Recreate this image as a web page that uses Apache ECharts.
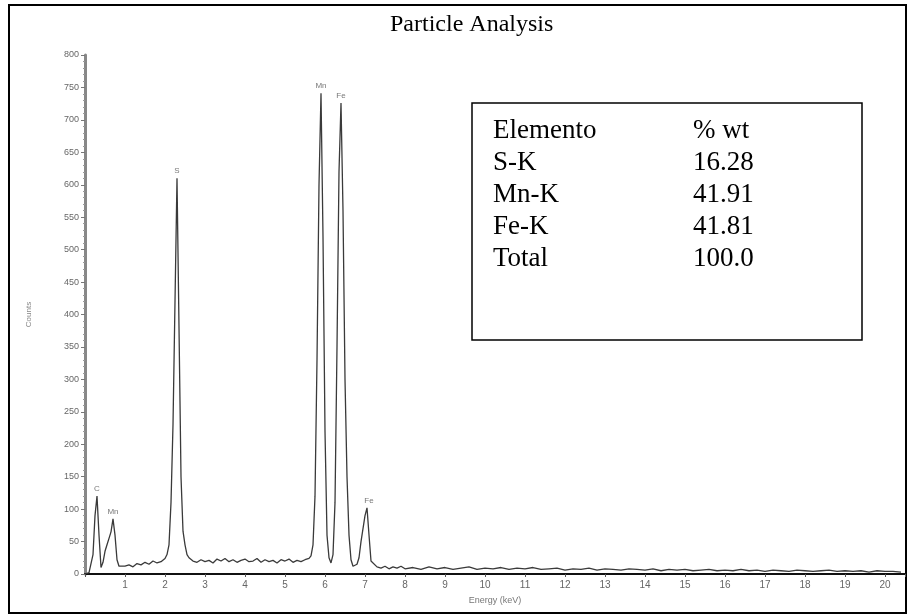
<!DOCTYPE html>
<html>
<head>
<meta charset="utf-8">
<script src="https://cdn.jsdelivr.net/npm/echarts@6/dist/echarts.min.js"></script>
<style>
  html, body { margin: 0; padding: 0; background: #fff; }
  #chart { width: 914px; height: 616px; }
</style>
</head>
<body>
<div id="chart"></div>
<script>
// espectro EDS: energia (keV) y cuentas
const spectrumEnergy = [
  0.00, 0.10, 0.20, 0.25, 0.30, 0.35, 0.40, 0.45, 0.50, 0.55, 0.60, 0.65, 0.70, 0.75, 0.80, 0.85, 0.90,
  1.00, 1.10, 1.20, 1.30, 1.40, 1.50, 1.60, 1.70, 1.80, 1.90, 2.00, 2.05, 2.10, 2.15, 2.20, 2.25, 2.30,
  2.35, 2.40, 2.45, 2.50, 2.55, 2.60, 2.70, 2.80, 2.90, 3.00, 3.10, 3.20, 3.30, 3.40, 3.50, 3.60, 3.70,
  3.80, 3.90, 4.00, 4.10, 4.20, 4.30, 4.40, 4.50, 4.60, 4.70, 4.80, 4.90, 5.00, 5.10, 5.20, 5.30, 5.40,
  5.50, 5.60, 5.65, 5.70, 5.75, 5.80, 5.85, 5.90, 5.95, 6.00, 6.05, 6.10, 6.15, 6.20, 6.25, 6.30, 6.35,
  6.40, 6.45, 6.50, 6.55, 6.60, 6.65, 6.70, 6.75, 6.80, 6.85, 6.90, 6.95, 7.00, 7.05, 7.10, 7.15, 7.20,
  7.30, 7.40, 7.50, 7.60, 7.70, 7.80, 7.90, 8.00, 8.20, 8.40, 8.60, 8.80, 9.00, 9.20, 9.40, 9.60, 9.80,
  10.0, 10.2, 10.4, 10.6, 10.8, 11.0, 11.2, 11.4, 11.6, 11.8, 12.0, 12.2, 12.4, 12.6, 12.8, 13.0, 13.2,
  13.4, 13.6, 13.8, 14.0, 14.2, 14.4, 14.6, 14.8, 15.0, 15.2, 15.4, 15.6, 15.8, 16.0, 16.2, 16.4, 16.6,
  16.8, 17.0, 17.2, 17.4, 17.6, 17.8, 18.0, 18.2, 18.4, 18.6, 18.8, 19.0, 19.2, 19.4, 19.6, 19.8, 20.0,
  20.2, 20.4
]
const spectrumCounts = [
  0, 2, 30, 90, 120, 60, 10, 18, 35, 45, 55, 65, 85, 60, 22, 12, 10,
  12, 14, 11, 16, 14, 18, 15, 20, 17, 19, 24, 30, 45, 110, 230, 420, 610,
  380, 150, 66, 45, 30, 25, 20, 18, 22, 19, 21, 17, 23, 20, 24, 19, 22,
  18, 21, 23, 19, 20, 24, 18, 22, 19, 21, 17, 22, 20, 23, 18, 21, 19,
  22, 24, 28, 45, 120, 330, 600, 741, 520, 220, 60, 25, 17, 30, 110, 350, 620,
  726, 560, 300, 150, 60, 22, 12, 14, 15, 25, 50, 70, 90, 102, 60, 20, 18,
  11, 9, 12, 8, 11, 9, 12, 8, 10, 7, 11, 8, 10, 7, 9, 11, 7,
  9, 8, 10, 7, 9, 8, 10, 7, 8, 9, 6, 8, 7, 9, 6, 8, 7,
  6, 8, 7, 6, 8, 5, 7, 6, 7, 5, 6, 7, 5, 6, 5, 7, 5,
  6, 4, 6, 5, 4, 6, 5, 4, 5, 6, 4, 5, 4, 5, 3, 5, 4,
  4, 3
]

// etiquetas de picos
const peakNames = ['C', 'Mn', 'S', 'Mn', 'Fe', 'Fe']
const peakEnergy = [0.30, 0.70, 2.30, 5.90, 6.40, 7.10]
const peakCounts = [120, 85, 610, 741, 726, 102]

// tabla de composicion
const tableElements = ['S-K', 'Mn-K', 'Fe-K', 'Total']
const tableWt = ['16.28', '41.91', '41.81', '100.0']

const chart = echarts.init(document.getElementById('chart'))

const spectrum = spectrumEnergy.map((e, i) => [e, spectrumCounts[i]])
const peaks = peakEnergy.map((e, i) => ({ value: [e, peakCounts[i]], name: peakNames[i] }))

const serif = 'Liberation Serif, Times New Roman, serif'
const tableFont = '27px ' + serif
const tableTexts = []
tableTexts.push({ type: 'text', left: 493, top: 117, style: { text: 'Elemento', font: tableFont, fill: '#000' } })
tableTexts.push({ type: 'text', left: 693, top: 117, style: { text: '% wt', font: tableFont, fill: '#000' } })
tableElements.forEach((el, i) => {
  tableTexts.push({ type: 'text', left: 493, top: 149 + i * 32, style: { text: el, font: tableFont, fill: '#000' } })
  tableTexts.push({ type: 'text', left: 693, top: 149 + i * 32, style: { text: tableWt[i], font: tableFont, fill: '#000' } })
})

const option = {
  backgroundColor: '#fff',
  animation: false,
  title: {
    text: 'Particle Analysis',
    left: 385,
    top: 8,
    textStyle: { fontFamily: serif, fontSize: 24, fontWeight: 'normal', color: '#000' }
  },
  grid: { left: 85, right: 9, top: 55, bottom: 42 },
  xAxis: {
    type: 'value',
    min: 0,
    max: 20.5,
    interval: 1,
    name: 'Energy (keV)',
    nameLocation: 'middle',
    nameGap: 22,
    nameTextStyle: { fontSize: 9, color: '#777' },
    axisLine: { lineStyle: { color: '#111', width: 2 } },
    axisTick: { length: 3, lineStyle: { color: '#555' } },
    axisLabel: {
      fontSize: 10,
      color: '#666',
      margin: 6,
      formatter: v => (v >= 1 && v <= 20 && Number.isInteger(v)) ? String(v) : ''
    },
    splitLine: { show: false }
  },
  yAxis: {
    type: 'value',
    min: 0,
    max: 800,
    interval: 50,
    name: 'Counts',
    nameLocation: 'middle',
    nameGap: 52,
    nameTextStyle: { fontSize: 8, color: '#888' },
    axisLine: { show: true, lineStyle: { color: '#888', width: 3 } },
    axisTick: { show: true, length: 4, lineStyle: { color: '#777' } },
    minorTick: { show: true, splitNumber: 5, length: 2, lineStyle: { color: '#999' } },
    axisLabel: { fontSize: 9, color: '#666', margin: 6 },
    splitLine: { show: false }
  },
  series: [
    {
      type: 'line',
      data: spectrum,
      showSymbol: false,
      lineStyle: { color: '#3a3a3a', width: 1.3 },
      z: 3
    },
    {
      type: 'scatter',
      data: peaks,
      symbolSize: 0,
      label: {
        show: true,
        position: 'top',
        distance: 3,
        formatter: p => p.name,
        fontSize: 8,
        color: '#555'
      },
      z: 4
    }
  ],
  graphic: [
    { type: 'rect', shape: { x: 9, y: 5, width: 897, height: 608 }, style: { fill: 'none', stroke: '#000', lineWidth: 2 } },
    { type: 'rect', shape: { x: 472, y: 103, width: 390, height: 237 }, style: { fill: '#fff', stroke: '#000', lineWidth: 1.5 } },
    ...tableTexts
  ]
}

chart.setOption(option)
</script>
</body>
</html>
